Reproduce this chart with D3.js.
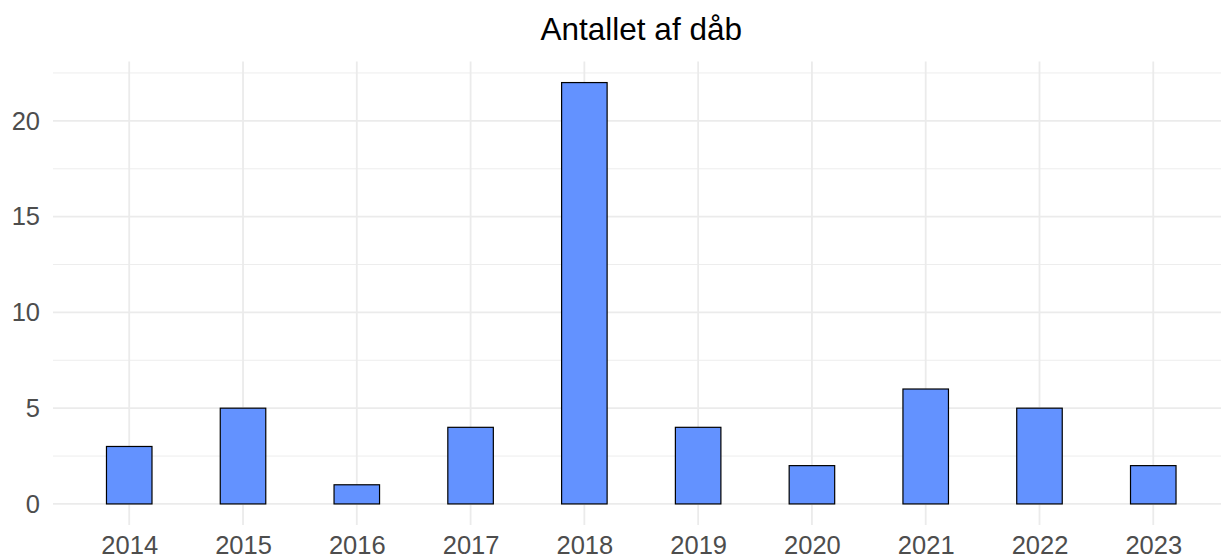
<!DOCTYPE html>
<html>
<head>
<meta charset="utf-8">
<script src="https://cdn.jsdelivr.net/npm/d3@7"></script>
<style>
  body { margin: 0; background: #fff; }
  svg { display: block; font-family: 'Liberation Sans', Arial, sans-serif; }
</style>
</head>
<body>
<div id="chart"></div>
<script>
const years = [2014, 2015, 2016, 2017, 2018, 2019, 2020, 2021, 2022, 2023];
const counts = [3, 5, 1, 4, 22, 4, 2, 6, 5, 2];
const yTicks = [0, 5, 10, 15, 20];
const yMinor = [2.5, 7.5, 12.5, 17.5, 22.5];
const title = 'Antallet af dåb';

const width = 1221;
const height = 559;
const panel = { left: 53, right: 1229.5, top: 61.5, bottom: 525 };
const barWidth = 0.4;

const svg = d3.select('#chart').append('svg')
  .attr('width', width)
  .attr('height', height);

const x = d3.scaleLinear()
  .domain([2013.33, 2023.67])
  .range([panel.left, panel.right]);
const y = d3.scaleLinear()
  .domain([-1.1, 23.1])
  .range([panel.bottom, panel.top]);

const grid = svg.append('g').attr('stroke', '#ebebeb').attr('fill', 'none');

grid.selectAll('.minor')
  .data(yMinor)
  .enter()
  .append('line')
    .attr('class', 'minor')
    .attr('x1', panel.left)
    .attr('x2', panel.right)
    .attr('y1', d => y(d))
    .attr('y2', d => y(d))
    .attr('stroke-width', 0.9);

grid.selectAll('.major-y')
  .data(yTicks)
  .enter()
  .append('line')
    .attr('class', 'major-y')
    .attr('x1', panel.left)
    .attr('x2', panel.right)
    .attr('y1', d => y(d))
    .attr('y2', d => y(d))
    .attr('stroke-width', 1.8);

grid.selectAll('.major-x')
  .data(years)
  .enter()
  .append('line')
    .attr('class', 'major-x')
    .attr('x1', d => x(d))
    .attr('x2', d => x(d))
    .attr('y1', panel.top)
    .attr('y2', panel.bottom)
    .attr('stroke-width', 1.8);

svg.selectAll('.bar')
  .data(years)
  .enter()
  .append('rect')
    .attr('class', 'bar')
    .attr('x', d => x(d - barWidth / 2))
    .attr('width', d => x(d + barWidth / 2) - x(d - barWidth / 2))
    .attr('y', (d, i) => y(counts[i]))
    .attr('height', (d, i) => y(0) - y(counts[i]))
    .attr('fill', '#6392ff')
    .attr('stroke', '#000')
    .attr('stroke-width', 1.2);

// axes drawn with d3 and stripped down to the labels
const yAxis = svg.append('g')
  .attr('transform', `translate(${panel.left},0)`)
  .call(d3.axisLeft(y).tickValues(yTicks).tickSize(0).tickPadding(13));
const xAxis = svg.append('g')
  .attr('transform', `translate(0,${panel.bottom})`)
  .call(d3.axisBottom(x).tickValues(years).tickFormat(d3.format('d')).tickSize(0).tickPadding(11));

[yAxis, xAxis].forEach(axis => {
  axis.select('.domain').remove();
  axis.selectAll('text')
    .attr('fill', '#4d4d4d')
    .style('font-size', '25.5px')
    .style('font-family', "'Liberation Sans', Arial, sans-serif");
});

svg.append('text')
  .attr('x', (panel.left + panel.right) / 2)
  .attr('y', 40)
  .attr('text-anchor', 'middle')
  .attr('fill', '#000')
  .style('font-size', '31.5px')
  .text(title);
</script>
</body>
</html>
